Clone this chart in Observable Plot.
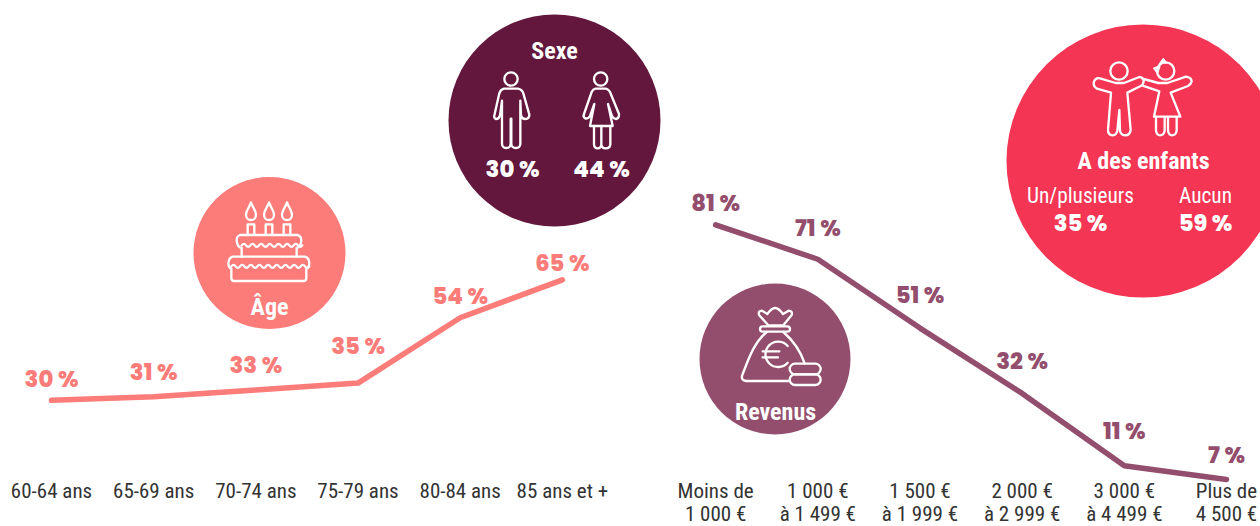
<!DOCTYPE html>
<html><head><meta charset="utf-8">
<script src="https://cdn.jsdelivr.net/npm/d3@7"></script>
<script src="https://cdn.jsdelivr.net/npm/@observablehq/plot@0.6"></script>
<style>
html,body{margin:0;padding:0;background:#fff;overflow:hidden}
svg{display:block}
</style></head><body><div id="chart"></div>
<script>
const ageCategories = ["60-64 ans","65-69 ans","70-74 ans","75-79 ans","80-84 ans","85 ans et +"];
const ageValues = [30,31,33,35,54,65];
const incomeCategories = ["Moins de\n1 000 €","1 000 €\nà 1 499 €","1 500 €\nà 1 999 €","2 000 €\nà 2 999 €","3 000 €\nà 4 499 €","Plus de\n4 500 €"];
const incomeValues = [81,71,51,32,11,7];
const ageLabelLift = [13,17,17,29,14,9];
const incomeLabelLift = [14,23,25,24,27,16];
const incomeOffset = 6.5;

const ROSE="#fb7c79", PLUM="#944e6d", WINE="#63173d", RED="#f43553";
const PCT="Poppins, Inter, sans-serif";
const COND="'Roboto Condensed', Roboto, sans-serif";
const PCTSIZE=22.7;
const pct = v => v + "\u2009%";

const allCats = [...ageCategories, ...incomeCategories];
const tickPos = [...ageCategories.map((_,i)=>i), ...incomeCategories.map((_,i)=>i+incomeOffset)];

function disc(cx,cy,r,fill){return Plot.dot([0],{frameAnchor:"top-left",dx:cx,dy:cy,r,fill,stroke:null});}
function note(t,cx,base,o={}){return Plot.text([t],{frameAnchor:"top-left",dx:cx,dy:base,text:d=>d,textAnchor:"middle",lineAnchor:"bottom",fill:"#fff",fontFamily:COND,fontWeight:700,fontSize:24,...o});}
function pctNote(v,cx,base,o={}){return note(pct(v),cx,base,{fontFamily:PCT,fontWeight:800,fontSize:PCTSIZE,...o});}

// Decorative pictograms: path data authored in a local coordinate frame
function icon(tx,ty,body,sw=7){
  return () => {
    const g=d3.create("svg:g").attr("transform",`translate(${tx},${ty}) scale(${1/3})`)
      .attr("fill","none").attr("stroke","#fff").attr("stroke-width",sw)
      .attr("stroke-linejoin","round").attr("stroke-linecap","round");
    g.html(body);
    return g.node();
  };
}
const sexIcons=`
<circle cx="213" cy="207" r="20"/>
<path d="M192 236H234Q246 238 250 250L268 314Q268 326 256 327Q246 327 243 316L241 272V402Q240 414 228 414Q215 414 214 402V326H212V402Q211 414 199 414Q187 414 186 402V272L180 316Q177 327 168 327Q160 325 164 312L178 250Q182 238 192 236Z"/>
<circle cx="482" cy="207" r="20"/>
<path d="M466 236H498Q506 238 510 246L537 312Q538 325 528 327Q520 326 516 318L504 282L518 348H450L463 282L450 318Q446 326 437 326Q428 322 432 312L455 246Q458 238 466 236Z"/>
<path d="M462 348V403Q463 415 473 415Q483 415 484 403V348M484 403Q485 415 497 415Q510 415 511 403V348"/>`;
const kidIcons=`
<circle cx="357" cy="153" r="26"/>
<path d="M300 175L347 189H372L418 171Q430 172 431 184Q430 194 422 198L382 218L392 330Q390 346 375 346Q362 345 360 332L358 270L352 332Q350 345 338 346Q324 345 324 330L333 218L291 206Q280 200 281 188Q286 172 300 175Z"/>
<circle cx="497" cy="153" r="26"/>
<path d="M478 140L463 145L472 157Z M480 132L490 118L497 128" />
<path d="M431 177L475 189H502L558 170Q574 172 575 184Q572 194 564 198L512 218L541 290H462L478 214L426 196"/>
<path d="M468 292V332Q470 346 480 346Q492 346 494 332V292M504 292V332Q506 346 516 346Q528 346 530 332V292"/>`;
const flame=x=>`<path d="M${x} 97C${x-4} 112 ${x-15} 120 ${x-15} 134C${x-15} 144 ${x-8} 150 ${x} 150C${x+8} 150 ${x+15} 144 ${x+15} 134C${x+15} 120 ${x+4} 112 ${x} 97Z"/><path d="M${x-10} 195V163H${x+10}V195"/>`;
const wave=(a,b,y)=>{let s=`M${a} ${y+2}`;for(let x=a;x<b-1;x+=26){s+=`q6.5 -9 13 0t13 0`;}return `<path d="${s}"/>`;};
const cakeIcon=`${flame(183)}${flame(237)}${flame(291)}
<path d="M150 195H322Q334 198 334 212Q332 232 320 234V260M155 234Q142 232 140 212Q140 198 150 195M155 234V260"/>
${wave(155,320,224)}
<path d="M128 260H345Q358 264 358 280Q356 296 349 296V324Q349 333 340 333H132Q124 333 124 324V296Q116 294 115 280Q116 264 128 260Z"/>
${wave(124,349,287)}`;
const bagIcon=`
<path d="M235 136L207 105Q204 92 216 92L232 102Q245 84 255 84Q266 84 279 102L296 92Q308 92 305 105L280 136Z"/>
<rect x="210" y="139" width="90" height="16" rx="8"/>
<path d="M230 156C190 190 175 240 158 282Q150 300 168 303H300M280 156C310 182 332 215 344 250"/>
<path d="M293 198A38 38 0 1 0 293 248"/>
<path d="M218 214H268M218 232H264"/>
<rect x="299" y="251" width="93" height="32" rx="16"/>
<rect x="299" y="283" width="93" height="32" rx="16"/>`;

const plot = Plot.plot({
  width:1260,height:526,
  margin:0,marginBottom:50,
  style:{background:"#fff",overflow:"hidden"},
  x:{type:"linear",domain:[0,11.5],range:[51,1226],axis:null},
  y:{type:"linear",domain:[0,100],range:[503,159],axis:null},
  marks:[
    disc(269,252.5,76,ROSE),
    disc(554,120,106,WINE),
    disc(774.5,358.5,75.5,PLUM),
    disc(1142.5,160.5,136.5,RED),
    Plot.line(ageValues,{x:(d,i)=>i,y:d=>d,stroke:ROSE,strokeWidth:5.5,strokeLinecap:"round",strokeLinejoin:"miter"}),
    Plot.line(incomeValues,{x:(d,i)=>i+incomeOffset,y:d=>d,stroke:PLUM,strokeWidth:5.5,strokeLinecap:"round",strokeLinejoin:"miter"}),
    ...ageValues.map((v,i)=>Plot.text([v],{x:()=>i,y:d=>d,dy:-ageLabelLift[i],text:pct,lineAnchor:"bottom",fill:ROSE,fontFamily:PCT,fontWeight:800,fontSize:PCTSIZE})),
    ...incomeValues.map((v,i)=>Plot.text([v],{x:()=>i+incomeOffset,y:d=>d,dy:-incomeLabelLift[i],text:pct,lineAnchor:"bottom",fill:PLUM,fontFamily:PCT,fontWeight:800,fontSize:PCTSIZE})),
    Plot.axisX({ticks:tickPos,tickSize:0,tickPadding:5,anchor:"bottom",label:null,
      tickFormat:x=>allCats[tickPos.indexOf(x)],fontSize:21,lineHeight:1.1,fontFamily:COND,fill:"#333",textAnchor:"middle",lineAnchor:"top"}),
    note("Sexe",554,58),
    pctNote(30,512,176),pctNote(44,601,176),
    note("Âge",269,314),
    note("Revenus",775,419),
    note("A des enfants",1143,168),
    note("Un/plusieurs",1080,202,{fontWeight:400,fontSize:21.3}),
    note("Aucun",1205,202,{fontWeight:400,fontSize:21.3}),
    pctNote(35,1080,230),pctNote(59,1205,230),
    icon(440,10,sexIcons),
    icon(1000,20,kidIcons),
    icon(190,170,cakeIcon),
    icon(690,280,bagIcon)
  ]
});
document.getElementById("chart").append(plot);
</script></body></html>
